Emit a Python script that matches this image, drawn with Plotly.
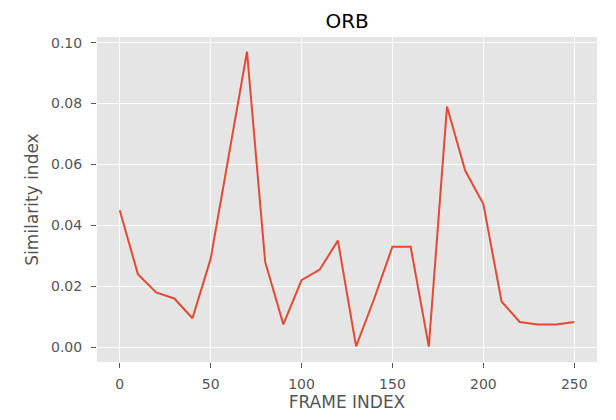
import plotly.graph_objs as go

# frame index and ORB similarity values
frame_index = [0, 10, 20, 30, 40, 50, 60, 70, 80, 90, 100, 110, 120,
               130, 140, 150, 160, 170, 180, 190, 200, 210, 220, 230, 240, 250]
similarity = [0.045, 0.024, 0.018, 0.016, 0.0095, 0.029, 0.063, 0.097, 0.028, 0.0075,
              0.022, 0.0255, 0.035, 0.0003, 0.016, 0.033, 0.033, 0.0002, 0.079, 0.058,
              0.047, 0.015, 0.0083, 0.0075, 0.0075, 0.0083]

x_ticks = [0, 50, 100, 150, 200, 250]
y_ticks = [0.00, 0.02, 0.04, 0.06, 0.08, 0.10]
y_tick_labels = ['0.00', '0.02', '0.04', '0.06', '0.08', '0.10']

fig = go.Figure()
fig.add_trace(
    go.Scatter(
        x=frame_index, y=similarity, mode='lines', name='ORB',
        line=dict(color='#E24A33', width=2)
    )
)

axis_common = dict(
    showline=False, zeroline=False, automargin=False,
    gridcolor='white', gridwidth=1.3,
    ticks='outside', ticklen=5, tickwidth=1, tickcolor='#555555',
    tickfont=dict(family='DejaVu Sans', size=14, color='#555555'),
)

fig.update_xaxes(
    range=[-12.5, 262.5], tickvals=x_ticks, ticklabelstandoff=4,
    title=dict(text='FRAME INDEX', font=dict(family='DejaVu Sans', size=17, color='#555555'), standoff=5),
    **axis_common
)
fig.update_yaxes(
    range=[-0.00485, 0.10185], tickvals=y_ticks, ticktext=y_tick_labels, ticklabelstandoff=6,
    title=dict(text='Similarity index', font=dict(family='DejaVu Sans', size=17, color='#555555'), standoff=8),
    **axis_common
)

fig.update_layout(
    width=616, height=420,
    template='none',
    showlegend=False,
    paper_bgcolor='white',
    plot_bgcolor='#E5E5E5',
    margin=dict(l=97, r=19, t=37, b=58),
    title=dict(
        text='ORB', x=0.5635, xanchor='center', y=0.95, yanchor='middle',
        font=dict(family='DejaVu Sans', size=20, color='black')
    ),
)

# drop the page's default body margin so the figure sits at the window corner
fig.write_html("out.html", config={'displayModeBar': False},
               post_script="document.body.style.margin='0';")
